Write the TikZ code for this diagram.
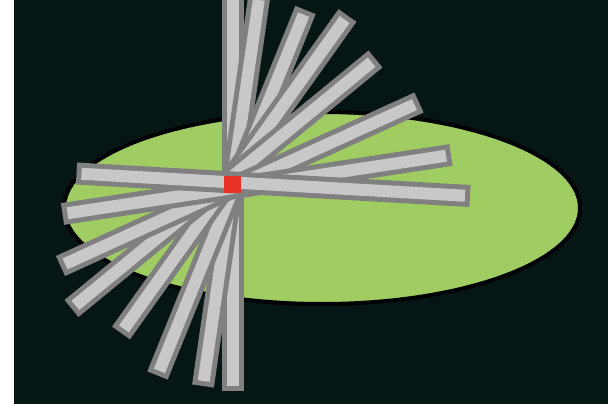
\documentclass[tikz,border=0pt]{standalone}
\usetikzlibrary{calc}
\definecolor{pondbg}{RGB}{5,22,21}
\definecolor{padgreen}{RGB}{160,205,98}
\definecolor{stickgray}{RGB}{128,128,128}
\definecolor{sticklight}{RGB}{200,200,200}
\definecolor{pivotred}{RGB}{232,50,38}
\tikzset{
    stickedge/.style={draw=stickgray, line width=22pt, line cap=butt},
    stickcore/.style={draw=sticklight, line width=12pt, line cap=butt, shorten <=5pt, shorten >=5pt},
    pad/.style={draw=black, line width=4pt, fill=padgreen}
}

\begin{document}
\begin{tikzpicture}[x=1pt, y=-1pt]
    \useasboundingbox (0,0) rectangle (608,404);
    % Background
    \fill[white] (0,0) rectangle (608,404);
    \fill[pondbg] (14,0) rectangle (608,404);
    \clip (14,0) rectangle (608,404);

    % Lily pad
    \draw[pad] (322,208) ellipse [x radius=258, y radius=96];

    % Sticks, upper end / lower end
    \foreach \ux/\uy/\lx/\ly in {232.5/-5/232.5/391, 259.5/-5/203/386,
        305.5/10/157.5/375.5, 347.5/15.5/121/333, 375.5/59/71.5/308.5,
        419/102.5/60.5/266, 451/155/62.5/214, 470/196/76.5/173.5}{
        \draw[stickedge] (\ux,\uy) -- (\lx,\ly);
        \draw[stickcore] (\ux,\uy) -- (\lx,\ly);
    }

    % Pivot
    \fill[pivotred] (224,176) rectangle (241,193);
\end{tikzpicture}
\end{document}
